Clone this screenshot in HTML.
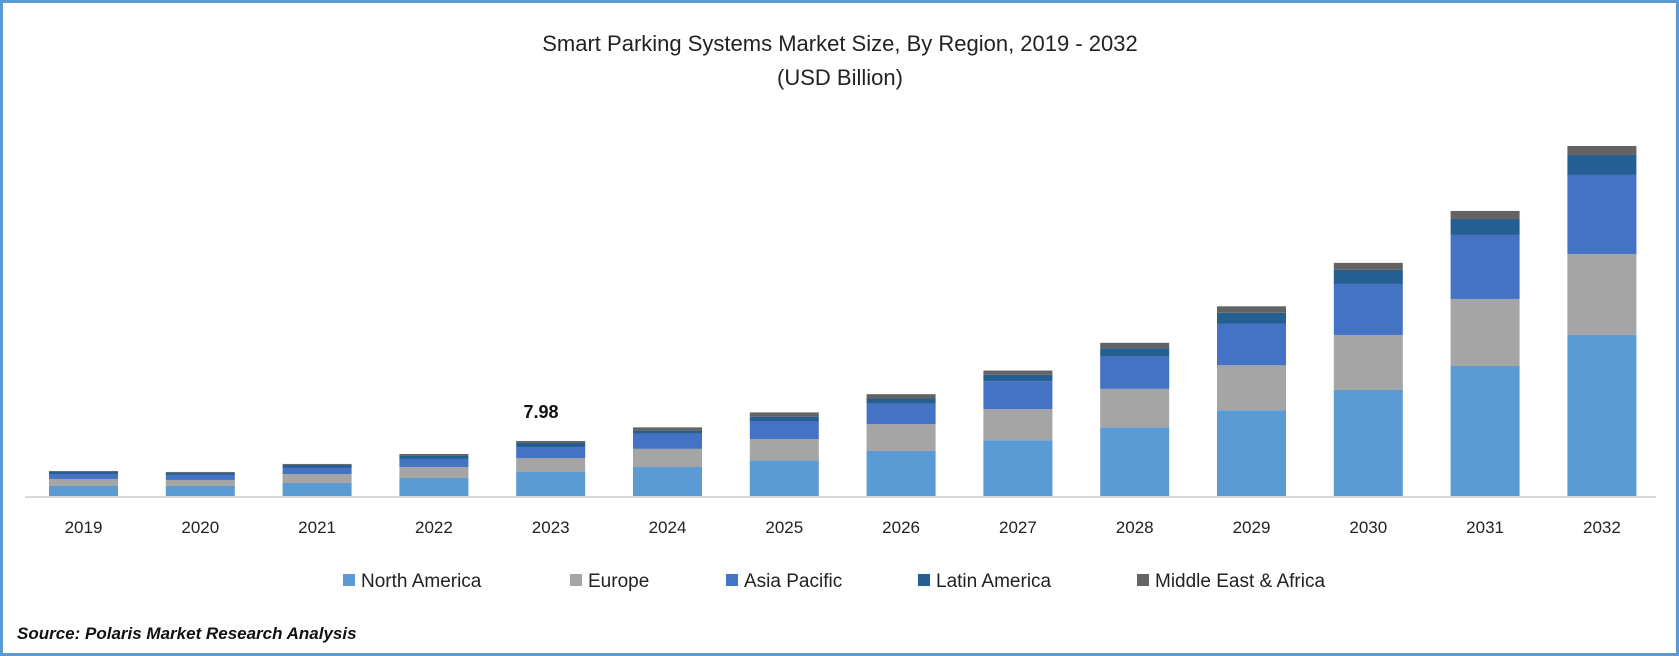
<!DOCTYPE html>
<html><head><meta charset="utf-8"><style>
html,body{margin:0;padding:0;background:#fff;}
svg{display:block;font-family:"Liberation Sans",sans-serif;}
</style></head><body>
<svg id="chart" width="1679" height="656" viewBox="0 0 1679 656" xmlns="http://www.w3.org/2000/svg">
<rect x="1.5" y="1.5" width="1676" height="653" fill="#fff" stroke="#5b9bd5" stroke-width="3"/>
<text x="840" y="51" text-anchor="middle" font-size="22" fill="#222">Smart Parking Systems Market Size, By Region, 2019 - 2032</text>
<text x="840" y="85" text-anchor="middle" font-size="22" fill="#222">(USD Billion)</text>
<g id="bars"></g>
<line x1="25" y1="497" x2="1656" y2="497" stroke="#d9d9d9" stroke-width="2"/>
<g id="xlabels"></g>
<text x="541" y="418" text-anchor="middle" font-size="18" font-weight="bold" fill="#111">7.98</text>
<g id="legend"></g>
<text x="17" y="639" font-size="17" font-weight="bold" font-style="italic" fill="#111">Source: Polaris Market Research Analysis</text>
</svg>
<script>
const categories = ["2019","2020","2021","2022","2023","2024","2025","2026","2027","2028","2029","2030","2031","2032"];
const seriesNames = ["North America","Europe","Asia Pacific","Latin America","Middle East & Africa"];
const northAmerica = [1.57,1.57,2.0,2.71,3.56,4.27,5.19,6.56,8.09,9.92,12.36,15.25,18.67,23.09];
const europe = [1.0,0.86,1.28,1.57,2.0,2.59,3.05,3.82,4.43,5.49,6.41,7.84,9.55,11.54];
const asiaPacific = [0.71,0.71,0.86,1.14,1.57,2.14,2.59,2.90,3.97,4.58,5.95,7.27,9.12,11.26];
const latinAmerica = [0.29,0.29,0.43,0.43,0.57,0.46,0.61,0.76,0.92,1.22,1.53,2.0,2.28,2.85];
const mea = [0.14,0.14,0.14,0.28,0.28,0.46,0.61,0.61,0.61,0.76,0.92,1.0,1.14,1.28];
const colors = ["#5b9bd5","#a5a5a5","#4472c4","#255e91","#636363"];
const series = [northAmerica, europe, asiaPacific, latinAmerica, mea];
const NS = "http://www.w3.org/2000/svg";
const baseY = 497, pxPer = 7.018, x0 = 49, step = 116.8, bw = 69;
function xPos(i){ return x0 + i*step; }
function yPos(v){ return baseY - v*pxPer; }
const bars = document.getElementById('bars');
categories.forEach((c,i)=>{
  let cum = 0;
  series.forEach((s,k)=>{
    const r = document.createElementNS(NS,'rect');
    const top = yPos(cum + s[i]), bot = yPos(cum);
    r.setAttribute('x', xPos(i));
    r.setAttribute('y', top);
    r.setAttribute('width', bw);
    r.setAttribute('height', Math.max(0, bot-top));
    r.setAttribute('fill', colors[k]);
    
    
    bars.appendChild(r);
    cum += s[i];
  });
  const t = document.createElementNS(NS,'text');
  t.setAttribute('x', xPos(i)+bw/2);
  t.setAttribute('y', 533);
  t.setAttribute('text-anchor','middle');
  t.setAttribute('font-size','17');
  t.setAttribute('fill','#222');
  t.textContent = c;
  
  
  document.getElementById('xlabels').appendChild(t);
});
const legX = [343,570,726,918,1137];
const leg = document.getElementById('legend');
seriesNames.forEach((n,k)=>{
  const g = document.createElementNS(NS,'g');
  
  
  const r = document.createElementNS(NS,'rect');
  r.setAttribute('x', legX[k]); r.setAttribute('y', 574);
  r.setAttribute('width', 12); r.setAttribute('height', 12);
  r.setAttribute('fill', colors[k]);
  const t = document.createElementNS(NS,'text');
  t.setAttribute('x', legX[k]+18); t.setAttribute('y', 587);
  t.setAttribute('font-size','19'); t.setAttribute('fill','#222');
  t.textContent = n;
  g.appendChild(r); g.appendChild(t); leg.appendChild(g);
});
</script>
</body></html>
